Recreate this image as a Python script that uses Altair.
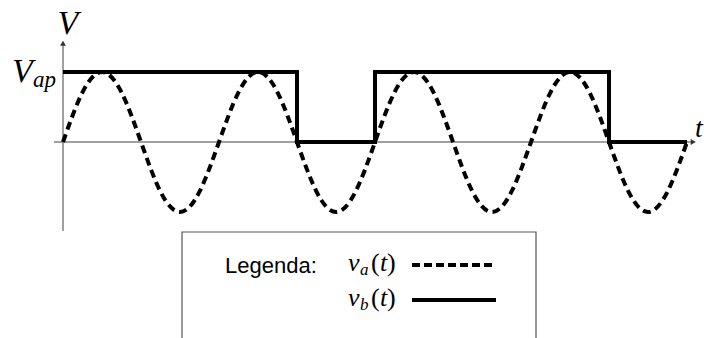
import altair as alt
import pandas as pd

# ---- data (t in sine periods, V in units of Vap) ----
t_a = [0, 0.125, 0.25, 0.375, 0.5, 0.625, 0.75, 0.875,
       1, 1.125, 1.25, 1.375, 1.5, 1.625, 1.75, 1.875,
       2, 2.125, 2.25, 2.375, 2.5, 2.625, 2.75, 2.875,
       3, 3.125, 3.25, 3.375, 3.5, 3.625, 3.75, 3.875, 4]
v_a = [0, 0.71, 1, 0.71, 0, -0.71, -1, -0.71,
       0, 0.71, 1, 0.71, 0, -0.71, -1, -0.71,
       0, 0.71, 1, 0.71, 0, -0.71, -1, -0.71,
       0, 0.71, 1, 0.71, 0, -0.71, -1, -0.71, 0]

t_b = [0, 1.5, 1.5, 2, 2, 3.5, 3.5, 4]
v_b = [1, 1, 0, 0, 1, 1, 0, 0]

# axis extents (arrows)
v_axis = [-1.27, 1.41]
t_axis = [-0.058, 4.04]

X_DOM = [-55 / 156, 642 / 156]
Y_DOM = [(134 - 330) / 70, 134 / 70]

xs = alt.Scale(domain=X_DOM, nice=False, zero=False)
ys = alt.Scale(domain=Y_DOM, nice=False, zero=False)

df_a = pd.DataFrame({"t": t_a, "v": v_a})
df_b = pd.DataFrame({"t": t_b, "v": v_b, "o": list(range(len(t_b)))})

GRAY = "#808080"
SERIF = "'Liberation Serif', 'Times New Roman', Times, serif"
SANS = "'Liberation Sans', Arial, Helvetica, sans-serif"

# axes
yaxis = alt.Chart(pd.DataFrame({"t": [0], "v1": [v_axis[0]], "v2": [v_axis[1]]})).mark_rule(
    color=GRAY, strokeWidth=1.5).encode(
    x=alt.X("t:Q", scale=xs, axis=None),
    y=alt.Y("v1:Q", scale=ys, axis=None), y2="v2:Q")
xaxis = alt.Chart(pd.DataFrame({"v": [0], "t1": [t_axis[0]], "t2": [t_axis[1]]})).mark_rule(
    color=GRAY, strokeWidth=1.5).encode(
    y=alt.Y("v:Q", scale=ys, axis=None),
    x=alt.X("t1:Q", scale=xs, axis=None), x2="t2:Q")
yarrow = alt.Chart(pd.DataFrame({"t": [0], "v": [v_axis[1]]})).mark_point(
    shape="triangle-up", filled=True, color="#333333", size=35, opacity=1).encode(
    x=alt.X("t:Q", scale=xs, axis=None), y=alt.Y("v:Q", scale=ys, axis=None))
xarrow = alt.Chart(pd.DataFrame({"t": [t_axis[1]], "v": [0]})).mark_point(
    shape="triangle-right", filled=True, color="#333333", size=35, opacity=1).encode(
    x=alt.X("t:Q", scale=xs, axis=None), y=alt.Y("v:Q", scale=ys, axis=None))

line_a = alt.Chart(df_a).mark_line(
    color="black", strokeWidth=4, strokeDash=[8, 5], interpolate="natural").encode(
    x=alt.X("t:Q", scale=xs, axis=None), y=alt.Y("v:Q", scale=ys, axis=None))
line_b = alt.Chart(df_b).mark_line(
    color="black", strokeWidth=4, strokeJoin="miter").encode(
    x=alt.X("t:Q", scale=xs, axis=None), y=alt.Y("v:Q", scale=ys, axis=None),
    order="o:Q")

def txt(s, x, y, size, font=SERIF, style="italic", align="left"):
    return alt.Chart(pd.DataFrame({"s": [s]})).mark_text(
        font=font, fontSize=size, fontStyle=style, align=align,
        baseline="alphabetic", color="black").encode(
        text="s:N", x=alt.value(x), y=alt.value(y))

labels = [
    txt("V", 60, 26, 34, align="center"),
    txt("V", 4, 74, 34),
    txt("ap", 25, 79, 23),
    txt("t", 687, 129, 28),
]

# legend box
box = alt.Chart(pd.DataFrame({"a": [0]})).mark_rect(
    fill="white", stroke="#555555", strokeWidth=1.2).encode(
    x=alt.value(174), x2=alt.value(528), y=alt.value(224), y2=alt.value(360))
leg_dash = alt.Chart(pd.DataFrame({"a": [0]})).mark_rule(
    color="black", strokeWidth=4, strokeDash=[8, 4]).encode(
    x=alt.value(404), x2=alt.value(488), y=alt.value(257))
leg_solid = alt.Chart(pd.DataFrame({"a": [0]})).mark_rule(
    color="black", strokeWidth=4).encode(
    x=alt.value(404), x2=alt.value(488), y=alt.value(292))

legend_txt = [
    txt("Legenda:", 217, 265, 22, font=SANS, style="normal"),
    txt("v", 340, 263, 26),
    txt("a", 352, 267, 17),
    txt("(", 363, 263, 26, style="normal"),
    txt("t", 372, 263, 26),
    txt(")", 379, 263, 26, style="normal"),
    txt("v", 340, 298, 26),
    txt("b", 352, 302, 17),
    txt("(", 363, 298, 26, style="normal"),
    txt("t", 372, 298, 26),
    txt(")", 379, 298, 26, style="normal"),
]

chart = alt.layer(
    yaxis, xaxis, yarrow, xarrow, line_a, line_b, *labels,
    box, leg_dash, leg_solid, *legend_txt
).properties(
    width=697, height=330, padding=0,
    autosize=alt.AutoSizeParams(type="none"),
    background="white"
).configure_view(stroke=None)

chart.save("out.html", embed_options={"renderer": "svg", "actions": False})
